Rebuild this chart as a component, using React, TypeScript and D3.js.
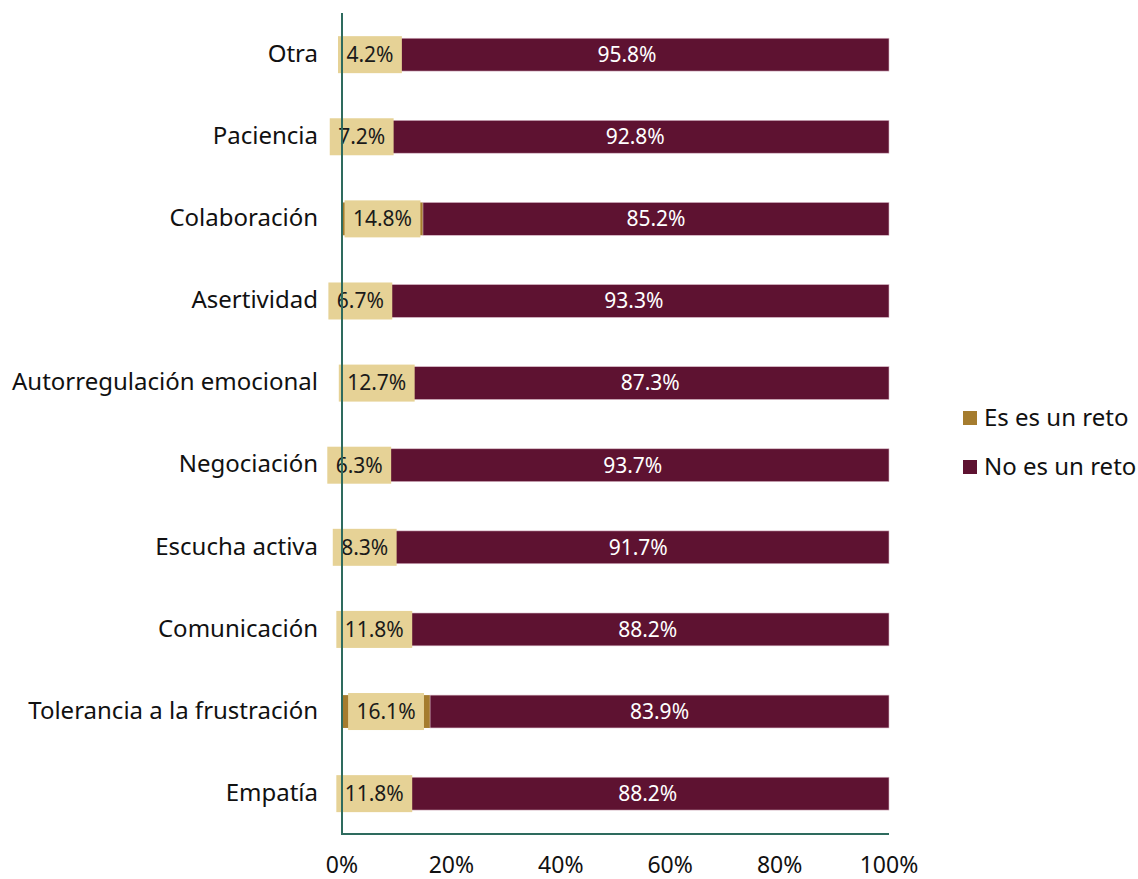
import React from "react";
import * as d3 from "d3";

const categories = [
  "Otra",
  "Paciencia",
  "Colaboración",
  "Asertividad",
  "Autorregulación emocional",
  "Negociación",
  "Escucha activa",
  "Comunicación",
  "Tolerancia a la frustración",
  "Empatía",
];
const esReto = [4.2, 7.2, 14.8, 6.7, 12.7, 6.3, 8.3, 11.8, 16.1, 11.8];
const noReto = [95.8, 92.8, 85.2, 93.3, 87.3, 93.7, 91.7, 88.2, 83.9, 88.2];
const xTicks = [0, 20, 40, 60, 80, 100];
const seriesNames = ["Es es un reto", "No es un reto"];
const colors = ["#A57C2E", "#5E1231"];

const W = 1138;
const H = 879;
const FONT = "'Noto Sans', 'Open Sans', sans-serif";
const LABEL_SIZE = 21;
const CAT_SIZE = 24;
const TICK_SIZE = 23;
const LEGEND_SIZE = 24;

function measure(text: string, size: number) {
  let w = 0;
  for (const ch of text) {
    if (ch === ".") w += 0.268;
    else if (ch === "%") w += 0.82;
    else w += 0.572;
  }
  return w * size;
}

export default function App() {
  const x = d3.scaleLinear().domain([0, 100]).range([342, 889]);
  const y = d3
    .scaleBand<string>()
    .domain(categories)
    .range([13.6, 834.7])
    .paddingInner(0.6)
    .paddingOuter(0.3);
  const bh = y.bandwidth();

  return (
    <svg width={W} height={H} style={{ display: "block", position: "absolute", left: 0, top: 0 }} fontFamily={FONT}>
      <rect width={W} height={H} fill="#fff" />
      {categories.map((c, i) => {
        const y0 = y(c)!;
        const cy = y0 + bh / 2;
        const a = esReto[i];
        const b = noReto[i];
        const la = `${a.toFixed(1)}%`;
        const lb = `${b.toFixed(1)}%`;
        const tw = measure(la, LABEL_SIZE);
        const bw = tw + 17;
        let cxA = (x(0) + x(a)) / 2;
        if (x(a) - x(0) < 25) cxA = x(0) - 4 + bw / 2;
        return (
          <g key={c}>
            <rect x={x(0)} y={y0} width={x(a) - x(0)} height={bh} fill={colors[0]} />
            <rect x={x(a)} y={y0} width={x(a + b) - x(a)} height={bh} fill={colors[1]} stroke="#d8b8c6" strokeWidth={0.6} />
            <rect x={cxA - bw / 2} y={cy - 18.5} width={bw} height={37} fill="#E6D296" />
            <text x={cxA} y={cy} dy="0.35em" textAnchor="middle" fontSize={LABEL_SIZE} fill="#1a1a1a">
              {la}
            </text>
            <text x={(x(a) + x(a + b)) / 2} y={cy} dy="0.35em" textAnchor="middle" fontSize={LABEL_SIZE} fill="#fff">
              {lb}
            </text>
            <text x={318} y={cy} dy="0.3em" textAnchor="end" fontSize={CAT_SIZE} fill="#111">
              {c}
            </text>
          </g>
        );
      })}
      <line x1={x(0)} x2={x(0)} y1={13} y2={835} stroke="#2E6B5E" strokeWidth={2} />
      <line x1={x(0)} x2={x(100)} y1={834} y2={834} stroke="#2E6B5E" strokeWidth={2} />
      {xTicks.map((t) => (
        <text key={t} x={x(t)} y={864.5} dy="0.35em" textAnchor="middle" fontSize={TICK_SIZE} fill="#111">
          {t}%
        </text>
      ))}
      {seriesNames.map((s, i) => (
        <g key={s} transform={`translate(963, ${411 + i * 49})`}>
          <rect x={0} y={0} width={14} height={14} fill={colors[i]} />
          <text x={21} y={7} dy="0.35em" fontSize={LEGEND_SIZE} fill="#111">
            {s}
          </text>
        </g>
      ))}
    </svg>
  );
}
